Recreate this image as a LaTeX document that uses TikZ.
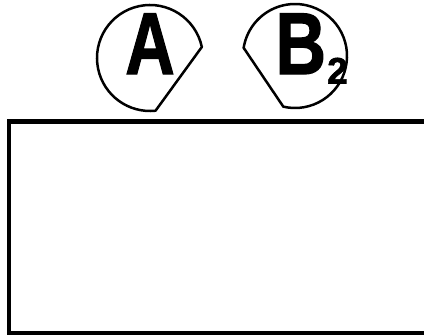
\documentclass[tikz,border=0pt]{standalone}
\usepackage{fontspec}
\setmainfont{Liberation Sans}[BoldFeatures={FakeBold=1.5}]
\usepackage{graphicx}
\usepackage{tikz}

\begin{document}
\begin{tikzpicture}[x=0.2mm, y=0.2mm]
  \useasboundingbox (0,0) rectangle (424,335);

  \tikzset{tag/.style={line width=0.5mm, line join=round},
           letter/.style={inner sep=0pt, font=\bfseries\fontsize{50}{50}\selectfont}}

  % the two tags
  \draw[tag] (150,277) ++(12:53) arc[start angle=12, end angle=276, radius=53] -- cycle;
  \draw[tag] (295,279) ++(-103:52) arc[start angle=-103, end angle=171, radius=52] -- cycle;

  \node[letter, anchor=base] (labelA) at (150,261) {\scalebox{0.78}[1]{A}};
  \node[letter, anchor=base west] (labelB) at (275,261)
    {\scalebox{0.8}[1]{B}\kern0.6pt\raisebox{-1.9mm}{\fontsize{21}{21}\selectfont 2}};

  % open box below
  \draw[line width=0.9mm] (424,213.5) -| (9,2) -- (424,2);
\end{tikzpicture}
\end{document}
